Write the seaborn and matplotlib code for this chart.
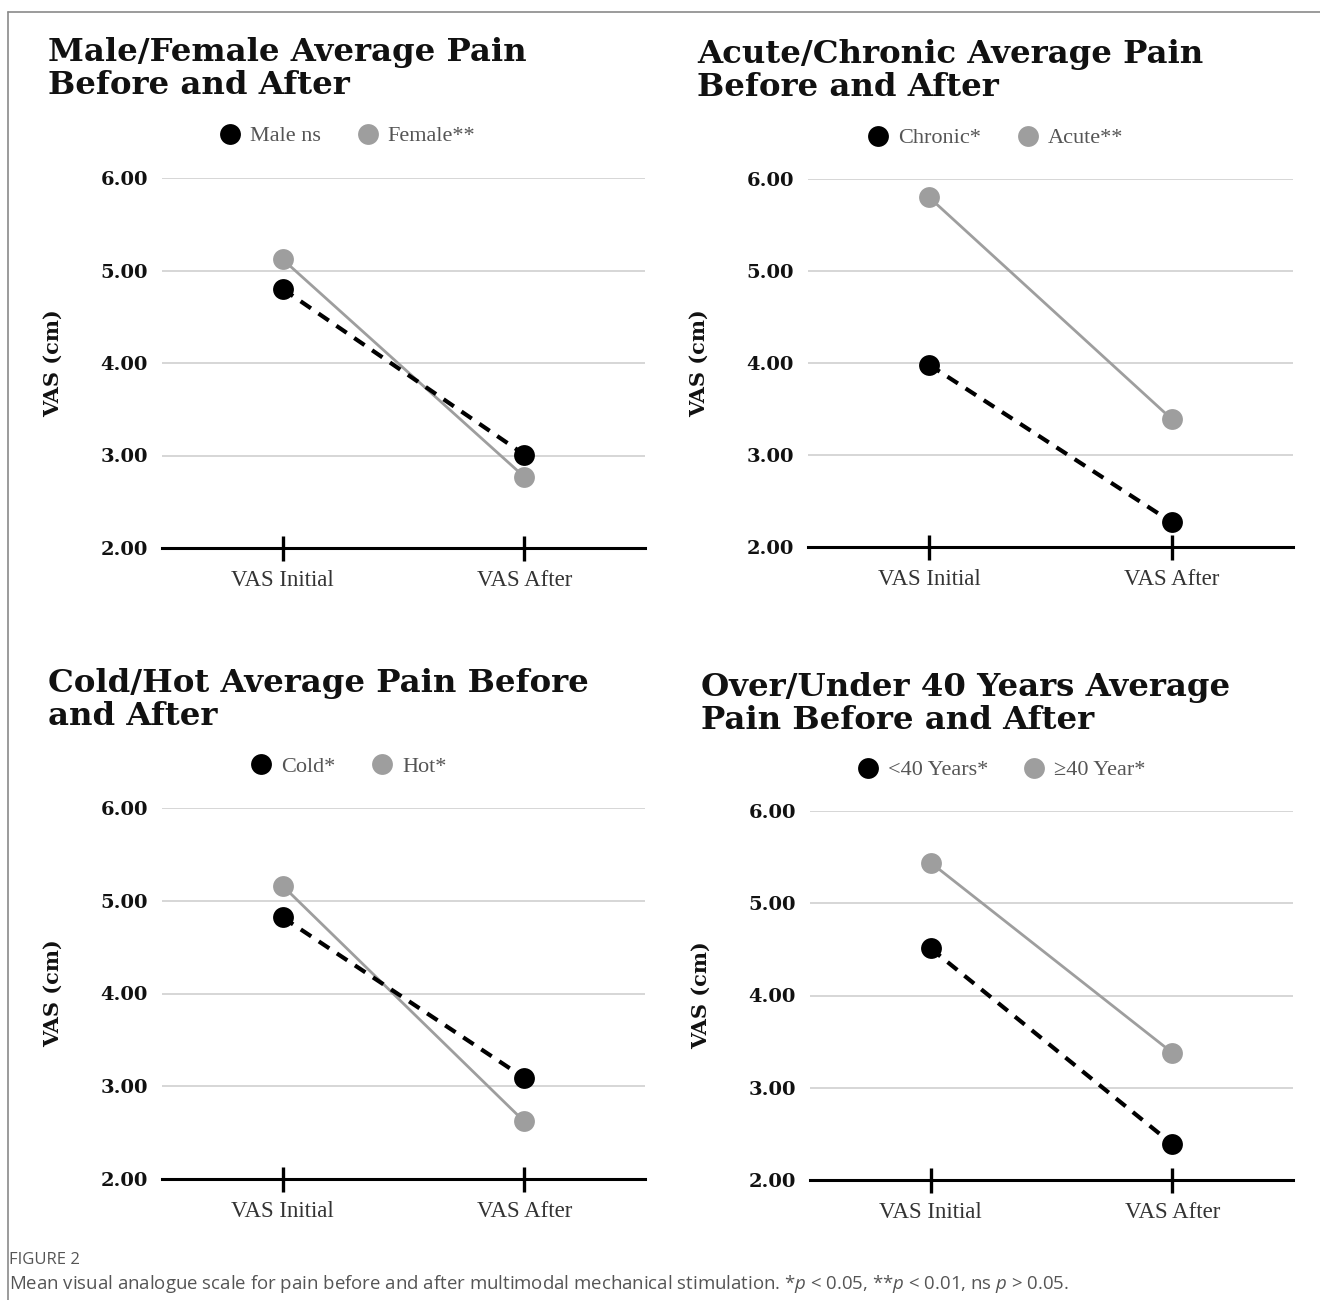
import matplotlib
matplotlib.use("Agg")

import matplotlib.pyplot as plt
import pandas as pd
import seaborn as sns
from matplotlib.lines import Line2D

# ===========================
# DATA
# ===========================

TIMEPOINTS = ["VAS Initial", "VAS After"]

TITLES = [
    "Male/Female Average Pain\nBefore and After",
    "Acute/Chronic Average Pain\nBefore and After",
    "Cold/Hot Average Pain Before\nand After",
    "Over/Under 40 Years Average\nPain Before and After",
]

DARK_LABELS = ["Male ns", "Chronic*", "Cold*", "<40 Years*"]
LIGHT_LABELS = ["Female**", "Acute**", "Hot*", "\u226540 Year*"]

DARK_VALUES = [
    [4.80, 3.01],
    [3.98, 2.27],
    [4.82, 3.09],
    [4.51, 2.39],
]
LIGHT_VALUES = [
    [5.12, 2.77],
    [5.80, 3.39],
    [5.16, 2.62],
    [5.44, 3.38],
]

Y_TICKS = [2, 3, 4, 5, 6]

CAPTION_HEAD = "FIGURE 2"
CAPTION_BODY = (r"Mean visual analogue scale for pain before and after multimodal mechanical "
                r"stimulation. *$p$ < 0.05, **$p$ < 0.01, ns $p$ > 0.05.")

# ===========================
# STYLE
# ===========================

BLACK = "#000000"
GREY = "#9e9e9e"
SERIF = ["DejaVu Serif"]
LABEL_SERIF = ["Liberation Serif"]

sns.set_theme(style="white")
plt.rcParams["font.family"] = SERIF
plt.rcParams["mathtext.fontset"] = "custom"
plt.rcParams["mathtext.it"] = "Open Sans:italic"
plt.rcParams["mathtext.rm"] = "Open Sans"

# axes boxes in pixels: left, top (y=6), right, bottom (y=2)
AX_BOXES = [
    (162, 178, 645, 548),
    (808, 179, 1293, 547),
    (162, 808, 645, 1179),
    (810, 811, 1293, 1180),
]
TITLE_POS = [(48, 37), (697, 39), (48, 668), (701, 672)]
LEGEND_POS = [(346, 136), (994, 138), (347, 767), (1000, 770)]

W, H = 1320, 1300


def draw_panel(fig, i):
    l, t, r, b = AX_BOXES[i]
    ax = fig.add_axes([l / W, 1 - b / H, (r - l) / W, (b - t) / H])

    df = pd.DataFrame({
        "time": TIMEPOINTS * 2,
        "vas": DARK_VALUES[i] + LIGHT_VALUES[i],
        "group": [DARK_LABELS[i]] * 2 + [LIGHT_LABELS[i]] * 2,
    })
    palette = {DARK_LABELS[i]: BLACK, LIGHT_LABELS[i]: GREY}
    dashes = {DARK_LABELS[i]: (3.0, 2.2), LIGHT_LABELS[i]: ""}

    sns.lineplot(
        data=df, x="time", y="vas", hue="group", style="group",
        palette=palette, dashes=dashes, markers={DARK_LABELS[i]: "o", LIGHT_LABELS[i]: "o"},
        markersize=15, markeredgewidth=0, ax=ax, legend=False, sort=False,
    )
    for line in ax.lines:
        if line.get_color() == BLACK:
            line.set_linewidth(3.0)
            line.set_zorder(3)
        else:
            line.set_linewidth(2.0)
            line.set_zorder(2)
        line.set_clip_on(False)

    ax.set_xlim(-0.5, 1.5)
    ax.set_ylim(2, 6)
    ax.set_yticks(Y_TICKS)
    ax.set_yticklabels([f"{v:.2f}" for v in Y_TICKS], fontweight="bold", fontsize=14, color="#111111")
    ax.tick_params(axis="y", left=False, length=0, pad=10)
    ax.tick_params(axis="x", bottom=True, direction="inout", length=18, width=2.4,
                   color=BLACK, pad=7)
    for lab in ax.get_xticklabels():
        lab.set_fontfamily(LABEL_SERIF)
        lab.set_fontsize(16.5)
        lab.set_color("#333333")

    ax.grid(axis="y", color="#d0d0d0", linewidth=1.2)
    ax.grid(axis="x", visible=False)
    for side in ["top", "right", "left"]:
        ax.spines[side].set_visible(False)
    ax.spines["bottom"].set_color(BLACK)
    ax.spines["bottom"].set_linewidth(2.2)
    ax.spines["bottom"].set_zorder(4)

    ax.set_xlabel("")
    ax.set_ylabel("VAS (cm)", fontweight="bold", fontsize=15, color="#111111")
    ax.yaxis.set_label_coords(-0.205, 0.5)

    tx, ty = TITLE_POS[i]
    fig.text(tx / W, 1 - ty / H, TITLES[i], ha="left", va="top",
             fontsize=23.3, fontweight="bold", color="#111111", linespacing=1.08)

    handles = [
        Line2D([], [], marker="o", linestyle="", markersize=15, color=BLACK, markeredgewidth=0),
        Line2D([], [], marker="o", linestyle="", markersize=15, color=GREY, markeredgewidth=0),
    ]
    lx, ly = LEGEND_POS[i]
    fig.legend(handles, [DARK_LABELS[i], LIGHT_LABELS[i]], loc="center",
               bbox_to_anchor=(lx / W, 1 - ly / H), ncol=2, frameon=False,
               prop={"family": LABEL_SERIF, "size": 16}, labelcolor="#555555",
               handletextpad=0.3, columnspacing=1.5, handlelength=1.2)
    return ax


def main():
    fig = plt.figure(figsize=(W / 100, H / 100), dpi=100)
    fig.patch.set_facecolor("white")

    for i in range(4):
        draw_panel(fig, i)

    # frame lines at top and left
    fig.add_artist(Line2D([8 / W, 1], [1 - 12 / H, 1 - 12 / H], color="#8a8a8a", linewidth=1.2))
    fig.add_artist(Line2D([8 / W, 8 / W], [0, 1 - 12 / H], color="#8a8a8a", linewidth=1.2))

    fig.text(9 / W, 1 - 1260 / H, CAPTION_HEAD, ha="left", va="center",
             fontsize=12, family="Open Sans", color="#555555")
    fig.text(9 / W, 1 - 1284 / H, CAPTION_BODY, ha="left", va="center",
             fontsize=13.4, family="Open Sans", color="#555555")

    fig.savefig("out.png", dpi=100)


if __name__ == "__main__":
    main()
